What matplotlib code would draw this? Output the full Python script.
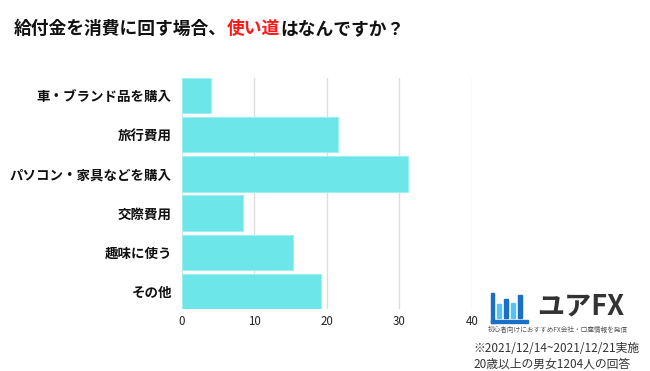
import matplotlib
matplotlib.use('Agg')
import matplotlib.pyplot as plt
from matplotlib.patches import Rectangle

plt.rcParams['font.family'] = ['Noto Sans CJK JP', 'DejaVu Sans']

# data (percent of respondents)
categories = ['車・ブランド品を購入', '旅行費用', 'パソコン・家具などを購入',
              '交際費用', '趣味に使う', 'その他']
values = [4.1, 21.6, 31.2, 8.4, 15.4, 19.2]
xticks = [0, 10, 20, 30, 40]

title_parts = [('給付金を消費に回す場合、', '#111111'),
               ('使い道', '#ff1a1a'),
               ('はなんですか？', '#111111')]
notes = ['※2021/12/14~2021/12/21実施', '20歳以上の男女1204人の回答']

W, H = 650, 371
fig = plt.figure(figsize=(W / 100, H / 100), dpi=100)
fig.patch.set_facecolor('white')

ax = fig.add_axes([181.6 / W, (H - 309) / H, (472 - 181.6) / W, 231 / H])
ypos = list(range(len(categories)))
ax.barh(ypos, values, height=0.9, color='#6ce6e9', edgecolor='#9ef0f2',
        linewidth=0.8, zorder=3)
ax.set_xlim(0, 40)
ax.set_ylim(5.45, -0.45)
ax.set_xticks(xticks)
ax.set_xticklabels([str(t) for t in xticks], fontsize=8.3, color='#222222')
ax.set_yticks(ypos)
ax.set_yticklabels(categories, fontsize=9.7, fontweight='bold', color='#111111')
ax.tick_params(axis='both', length=0)
ax.tick_params(axis='x', pad=4)
ax.tick_params(axis='y', pad=7)
ax.grid(axis='x', color='#dddddd', linewidth=1, zorder=0)
for s in ax.spines.values():
    s.set_visible(False)

# title built from coloured pieces
fig.canvas.draw()
r = fig.canvas.get_renderer()
x = 14 / W
for txt, col in title_parts:
    t = fig.text(x, 1 - 29 / H, txt, fontsize=12.8, fontweight='bold',
                 color=col, va='center', ha='left')
    bb = t.get_window_extent(renderer=r)
    x = bb.x1 / W

# logo
icon_blue = '#1a6fc9'
icon_light = '#56c3f7'
fig.patches.append(Rectangle((491 / W, (H - 323) / H), 2.5 / W, 30 / H,
                             transform=fig.transFigure, color=icon_blue))
fig.patches.append(Rectangle((491 / W, (H - 323) / H), 37 / W, 3 / H,
                             transform=fig.transFigure, color=icon_blue))
bar_x = [497, 504, 511, 518]
bar_top = [304, 299, 303, 295]
bar_c = [icon_light, icon_blue, icon_light, icon_blue]
for bx, bt, bc in zip(bar_x, bar_top, bar_c):
    fig.patches.append(Rectangle((bx / W, (H - 318) / H), 4 / W, (318 - bt) / H,
                                 transform=fig.transFigure, color=bc))
fig.text(537 / W, 1 - 306 / H, 'ユアFX', fontsize=19.5, fontweight='bold',
         color='#333333', va='center', ha='left')
fig.text(488 / W, 1 - 330 / H, '初心者向けにおすすめFX会社・口座情報を発信',
         fontsize=4.8, color='#555555', va='center', ha='left')

for i, n in enumerate(notes):
    fig.text(473 / W, 1 - (348 + 16 * i) / H, n, fontsize=8.5,
             color='#333333', va='center', ha='left')

fig.savefig('out.png', dpi=100)
